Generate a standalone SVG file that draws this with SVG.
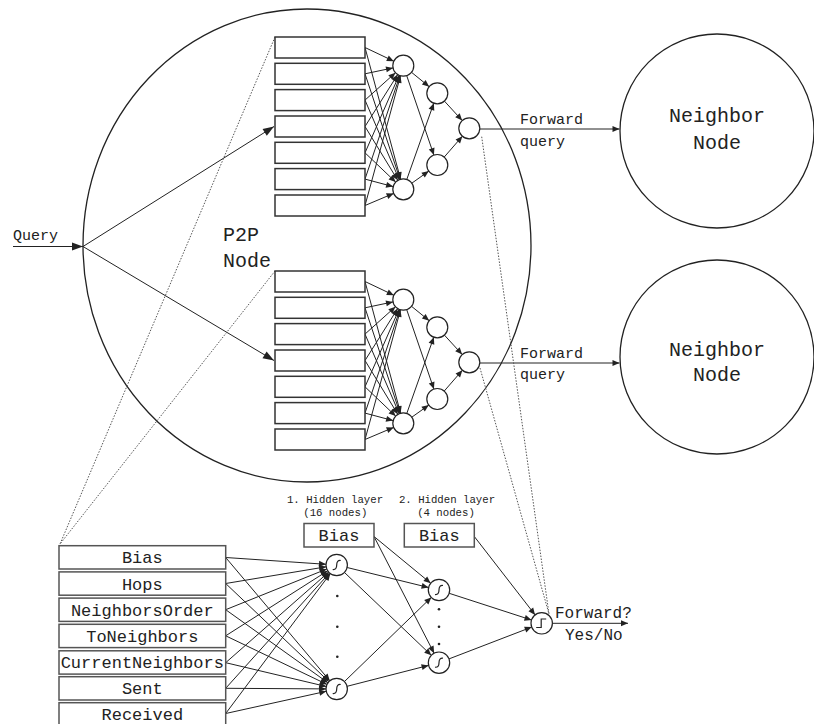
<svg xmlns="http://www.w3.org/2000/svg" width="814" height="724" viewBox="0 0 814 724">
<defs>
<marker id="ah" markerUnits="userSpaceOnUse" markerWidth="10" markerHeight="8" refX="7" refY="3" orient="auto" overflow="visible"><path d="M0,0 L7,3 L0,6 Z" fill="#222"/></marker>
<marker id="ahb" markerUnits="userSpaceOnUse" markerWidth="12" markerHeight="10" refX="11" refY="4" orient="auto" overflow="visible"><path d="M0,0 L11,4 L0,8 Z" fill="#222"/></marker>
<path id="sig" d="M-4,4.5 Q0,5 0,0 Q0,-5 4,-4.5"/>
</defs>
<style>
.bg{fill:#fff}
.big{fill:none;stroke:#222;stroke-width:1.3}
.box{fill:#fff;stroke:#333;stroke-width:1.5}
.box2{fill:#fff;stroke:#555;stroke-width:1.5}
.n{fill:#fff;stroke:#222;stroke-width:1.2}
.c{fill:none;stroke:#222;stroke-width:1}
.c line,.c path{marker-end:url(#ah)}
.dot{fill:none;stroke:#555;stroke-width:1;stroke-dasharray:1.5 1.5}
.sym{fill:none;stroke:#222;stroke-width:1.2}
text{font-family:"Liberation Mono","DejaVu Sans Mono",monospace;fill:#222}
.t15{font-size:15px}
.t20{font-size:20px}
.t17{font-size:17px}
.t11{font-size:10.7px}
.t16{font-size:16px}
.mid{text-anchor:middle}
</style>
<rect class="bg" x="0" y="0" width="814" height="724"/>

<g id="p2p-node">
<ellipse class="big" cx="307" cy="245.5" rx="224" ry="236.5"/>
<text class="t20" x="223" y="241">P2P</text>
<text class="t20" x="223" y="267">Node</text>
</g>
<g id="neighbor-1">
<circle class="big" cx="717" cy="131" r="97"/>
<text class="t20 mid" x="717" y="122">Neighbor</text>
<text class="t20 mid" x="717" y="149">Node</text>
</g>
<g id="neighbor-2">
<circle class="big" cx="717" cy="357" r="97"/>
<text class="t20 mid" x="717" y="356">Neighbor</text>
<text class="t20 mid" x="717" y="381">Node</text>
</g>
<g id="query-label">
<text class="t15" x="13" y="240">Query</text>
</g>

<g id="connectors">
<g class="c">
<line x1="13" y1="246.5" x2="83" y2="246.5" style="marker-end:url(#ahb)"/>
<line x1="83" y1="246.5" x2="274" y2="126.5" style="marker-end:url(#ahb)"/>
<line x1="83" y1="246.5" x2="274" y2="360.5" style="marker-end:url(#ahb)"/>
<line x1="479.8" y1="129" x2="619.5" y2="129"/>
<line x1="479.8" y1="363" x2="619.5" y2="363"/>
</g>
<g class="c" id="net1-edges">
<line x1="365" y1="47.5" x2="393.8" y2="61.2"/>
<line x1="365" y1="73.8" x2="393.0" y2="67.9"/>
<line x1="365" y1="100.1" x2="395.5" y2="72.7"/>
<line x1="365" y1="126.5" x2="397.7" y2="74.6"/>
<line x1="365" y1="152.8" x2="399.1" y2="75.3"/>
<line x1="365" y1="179.1" x2="399.9" y2="75.6"/>
<line x1="365" y1="205.5" x2="400.5" y2="75.8"/>
<line x1="365" y1="47.5" x2="400.6" y2="179.2"/>
<line x1="365" y1="73.8" x2="400.0" y2="179.3"/>
<line x1="365" y1="100.1" x2="399.2" y2="179.6"/>
<line x1="365" y1="126.5" x2="397.8" y2="180.3"/>
<line x1="365" y1="152.8" x2="395.7" y2="182.1"/>
<line x1="365" y1="179.1" x2="393.1" y2="186.6"/>
<line x1="365" y1="205.5" x2="393.6" y2="193.4"/>
<line x1="411.5" y1="72.3" x2="429.2" y2="86.7"/>
<line x1="406.7" y1="75.6" x2="433.9" y2="155.1"/>
<line x1="406.8" y1="179.4" x2="433.8" y2="103.2"/>
<line x1="411.8" y1="183.2" x2="428.8" y2="171.1"/>
<line x1="444.4" y1="101.1" x2="462.2" y2="120.5"/>
<line x1="444.2" y1="157.1" x2="462.4" y2="136.2"/>
</g>
<g class="c" id="net2-edges" transform="translate(0,234)">
<line x1="365" y1="47.5" x2="393.8" y2="61.2"/>
<line x1="365" y1="73.8" x2="393.0" y2="67.9"/>
<line x1="365" y1="100.1" x2="395.5" y2="72.7"/>
<line x1="365" y1="126.5" x2="397.7" y2="74.6"/>
<line x1="365" y1="152.8" x2="399.1" y2="75.3"/>
<line x1="365" y1="179.1" x2="399.9" y2="75.6"/>
<line x1="365" y1="205.5" x2="400.5" y2="75.8"/>
<line x1="365" y1="47.5" x2="400.6" y2="179.2"/>
<line x1="365" y1="73.8" x2="400.0" y2="179.3"/>
<line x1="365" y1="100.1" x2="399.2" y2="179.6"/>
<line x1="365" y1="126.5" x2="397.8" y2="180.3"/>
<line x1="365" y1="152.8" x2="395.7" y2="182.1"/>
<line x1="365" y1="179.1" x2="393.1" y2="186.6"/>
<line x1="365" y1="205.5" x2="393.6" y2="193.4"/>
<line x1="411.5" y1="72.3" x2="429.2" y2="86.7"/>
<line x1="406.7" y1="75.6" x2="433.9" y2="155.1"/>
<line x1="406.8" y1="179.4" x2="433.8" y2="103.2"/>
<line x1="411.8" y1="183.2" x2="428.8" y2="171.1"/>
<line x1="444.4" y1="101.1" x2="462.2" y2="120.5"/>
<line x1="444.2" y1="157.1" x2="462.4" y2="136.2"/>
</g>
<g class="c" id="detail-edges">
<line x1="225.7" y1="557.5" x2="326.0" y2="564.3"/>
<line x1="225.7" y1="583.5" x2="326.1" y2="566.8"/>
<line x1="225.7" y1="609.7" x2="326.8" y2="569.0"/>
<line x1="225.7" y1="635.8" x2="327.7" y2="570.8"/>
<line x1="225.7" y1="662.7" x2="328.7" y2="572.1"/>
<line x1="225.7" y1="688.3" x2="329.5" y2="573.0"/>
<line x1="225.7" y1="713.5" x2="330.3" y2="573.6"/>
<line x1="225.7" y1="557.5" x2="329.8" y2="680.8"/>
<line x1="225.7" y1="583.5" x2="328.9" y2="681.6"/>
<line x1="225.7" y1="609.7" x2="328.0" y2="682.8"/>
<line x1="225.7" y1="635.8" x2="327.0" y2="684.4"/>
<line x1="225.7" y1="662.7" x2="326.3" y2="686.5"/>
<line x1="225.7" y1="688.3" x2="326.0" y2="688.9"/>
<line x1="225.7" y1="713.5" x2="326.3" y2="691.3"/>
<line x1="347.1" y1="567.5" x2="428.6" y2="587.5"/>
<line x1="344.4" y1="572.4" x2="431.3" y2="655.3"/>
<line x1="344.4" y1="681.6" x2="431.3" y2="597.4"/>
<line x1="347.1" y1="686.3" x2="428.6" y2="665.4"/>
<line x1="374" y1="536.5" x2="430.7" y2="583.2"/>
<line x1="374" y1="536.5" x2="434.1" y2="653.2"/>
<line x1="449.2" y1="593.3" x2="531.5" y2="620.0"/>
<line x1="449.0" y1="658.9" x2="531.7" y2="627.1"/>
<line x1="474.3" y1="536.5" x2="535.1" y2="614.9"/>
<line x1="552.4" y1="623.3" x2="628" y2="623.3"/>
</g>
<g id="zoom-lines">
<line class="dot" x1="275" y1="37" x2="60" y2="544"/>
<line class="dot" x1="275" y1="271" x2="60" y2="544"/>
<line class="dot" x1="481.7" y1="136.7" x2="549" y2="614"/>
<line class="dot" x1="480" y1="368" x2="549" y2="614"/>
</g>
</g>

<g id="net1">
<g id="net1-inputs">
<rect class="box" x="275" y="37" width="90" height="21"/>
<rect class="box" x="275" y="63.3" width="90" height="21"/>
<rect class="box" x="275" y="89.6" width="90" height="21"/>
<rect class="box" x="275" y="116" width="90" height="21"/>
<rect class="box" x="275" y="142.3" width="90" height="21"/>
<rect class="box" x="275" y="168.6" width="90" height="21"/>
<rect class="box" x="275" y="195" width="90" height="21"/>
</g>
<g id="net1-h1a"><circle class="n" cx="403.3" cy="65.7" r="10.5"/></g>
<g id="net1-h1b"><circle class="n" cx="403.3" cy="189.3" r="10.5"/></g>
<g id="net1-h2a"><circle class="n" cx="437.3" cy="93.3" r="10.5"/></g>
<g id="net1-h2b"><circle class="n" cx="437.3" cy="165" r="10.5"/></g>
<g id="net1-out"><circle class="n" cx="469.3" cy="128.3" r="10.5"/></g>
</g>
<g id="net2" transform="translate(0,234)">
<g id="net2-inputs">
<rect class="box" x="275" y="37" width="90" height="21"/>
<rect class="box" x="275" y="63.3" width="90" height="21"/>
<rect class="box" x="275" y="89.6" width="90" height="21"/>
<rect class="box" x="275" y="116" width="90" height="21"/>
<rect class="box" x="275" y="142.3" width="90" height="21"/>
<rect class="box" x="275" y="168.6" width="90" height="21"/>
<rect class="box" x="275" y="195" width="90" height="21"/>
</g>
<g id="net2-h1a"><circle class="n" cx="403.3" cy="65.7" r="10.5"/></g>
<g id="net2-h1b"><circle class="n" cx="403.3" cy="189.3" r="10.5"/></g>
<g id="net2-h2a"><circle class="n" cx="437.3" cy="93.3" r="10.5"/></g>
<g id="net2-h2b"><circle class="n" cx="437.3" cy="165" r="10.5"/></g>
<g id="net2-out"><circle class="n" cx="469.3" cy="128.3" r="10.5"/></g>
</g>

<g id="forward-labels">
<text class="t15" x="520" y="124">Forward</text>
<text class="t15" x="520" y="146">query</text>
<text class="t15" x="520" y="358">Forward</text>
<text class="t15" x="520" y="379">query</text>
</g>

<g id="detail-inputs">
<g id="in-bias"><rect class="box2" x="59" y="545.7" width="166.7" height="23.3"/><text class="t17 mid" x="142.3" y="563.3">Bias</text></g>
<g id="in-hops"><rect class="box2" x="59" y="571.9" width="166.7" height="23.3"/><text class="t17 mid" x="142.3" y="589.5">Hops</text></g>
<g id="in-neighborsorder"><rect class="box2" x="59" y="598.1" width="166.7" height="23.3"/><text class="t17 mid" x="142.3" y="615.7">NeighborsOrder</text></g>
<g id="in-toneighbors"><rect class="box2" x="59" y="624.3" width="166.7" height="23.3"/><text class="t17 mid" x="142.3" y="641.9">ToNeighbors</text></g>
<g id="in-currentneighbors"><rect class="box2" x="59" y="650.8" width="166.7" height="23.3"/><text class="t17 mid" x="142.3" y="668.4">CurrentNeighbors</text></g>
<g id="in-sent"><rect class="box2" x="59" y="676.7" width="166.7" height="23.3"/><text class="t17 mid" x="142.3" y="694.3">Sent</text></g>
<g id="in-received"><rect class="box2" x="59" y="702.7" width="166.7" height="23.3"/><text class="t17 mid" x="142.3" y="719.5">Received</text></g>
</g>

<g id="layer-labels">
<text class="t11 mid" x="335" y="503">1. Hidden layer</text>
<text class="t11 mid" x="335.3" y="516">(16 nodes)</text>
<text class="t11 mid" x="447" y="503">2. Hidden layer</text>
<text class="t11 mid" x="446" y="516">(4 nodes)</text>
</g>
<g id="bias-1"><rect class="box2" x="304" y="523.5" width="70" height="23.5"/><text class="t17 mid" x="339" y="541">Bias</text></g>
<g id="bias-2"><rect class="box2" x="404.3" y="523.5" width="70" height="23.5"/><text class="t17 mid" x="439.3" y="541">Bias</text></g>

<g id="d-h1a"><circle class="n" cx="336.7" cy="565" r="10.7"/><use href="#sig" class="sym" x="336.7" y="565"/></g>
<g id="d-h1b"><circle class="n" cx="336.7" cy="689" r="10.7"/><use href="#sig" class="sym" x="336.7" y="689"/></g>
<g id="d-h1-dots" fill="#222"><circle cx="337.3" cy="596" r="1.3"/><circle cx="337.3" cy="626.7" r="1.3"/><circle cx="337.3" cy="656.7" r="1.3"/></g>
<g id="d-h2a"><circle class="n" cx="439" cy="590" r="10.7"/><use href="#sig" class="sym" x="439" y="590"/></g>
<g id="d-h2b"><circle class="n" cx="439" cy="662.7" r="10.7"/><use href="#sig" class="sym" x="439" y="662.7"/></g>
<g id="d-h2-dots" fill="#222"><circle cx="439" cy="609.3" r="1.3"/><circle cx="439" cy="626.7" r="1.3"/><circle cx="439" cy="644" r="1.3"/></g>
<g id="d-out"><circle class="n" cx="541.7" cy="623.3" r="10.7"/><path class="sym" d="M536.2,627.5 L541.2,627.5 L541.2,619 L546.2,619"/></g>
<g id="out-label">
<text class="t16" x="555" y="618">Forward?</text>
<text class="t16" x="565" y="639.5">Yes/No</text>
</g>
</svg>
